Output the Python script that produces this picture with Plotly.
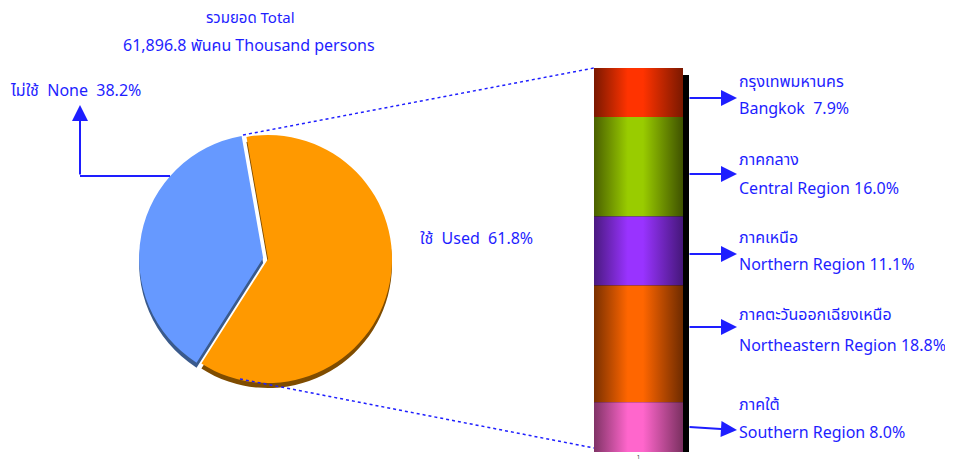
import plotly.graph_objects as go

# data
pie_labels = ["ใช้ Used", "ไม่ใช้ None"]
pie_values = [61.8, 38.2]
region_th = ["กรุงเทพมหานคร", "ภาคกลาง", "ภาคเหนือ", "ภาคตะวันออกเฉียงเหนือ", "ภาคใต้"]
region_en = ["Bangkok", "Central Region", "Northern Region", "Northeastern Region", "Southern Region"]
region_values = [7.9, 16.0, 11.1, 18.8, 8.0]
total_value = "61,896.8"

# page body has an 8px margin, so the figure is sized to the visible area
OFF = 8
W, H = 953 - OFF, 463 - OFF
BLUE = "#1e1eff"
FONT = "Noto Sans Thai, Tahoma, DejaVu Sans, sans-serif"


def px(x):
    return (x - OFF) / W


def py(y):
    return 1 - (y - OFF) / H


# gradient colours for the cylinder-like bar (dark, bright, dark)
bar_colors = [
    ("#7a1800", "#ff3300", "#7a1800"),
    ("#4a6000", "#99cc00", "#3f5200"),
    ("#4a1a80", "#9933ff", "#45177a"),
    ("#7a3000", "#ff6600", "#6e2b00"),
    ("#803366", "#ff66cc", "#7a3060"),
]

fig = go.Figure()

# pie shadow then pie
pie_cx, pie_cy, pie_r, pull = 268, 259, 124, 0.04
half = pie_r * (1 + pull)
for dy, colors in [(5, ["#7f4c00", "#3a5a8c"]), (0, ["#ff9900", "#6699ff"])]:
    cy = pie_cy + dy
    fig.add_trace(go.Pie(
        labels=pie_labels,
        values=pie_values,
        sort=False,
        direction="clockwise",
        rotation=-10,
        pull=[0, pull],
        marker=dict(colors=colors, line=dict(width=0)),
        textinfo="none",
        hoverinfo="label+percent",
        showlegend=False,
        domain=dict(x=[px(pie_cx - half), px(pie_cx + half)],
                    y=[py(cy + half), py(cy - half)]),
    ))

# stacked bar, top to bottom
total = sum(region_values)
top = total
for i, v in enumerate(region_values):
    lo, hi = top - v, top
    dark, bright, dark2 = bar_colors[i]
    fig.add_trace(go.Scatter(
        x=[0, 1, 1, 0, 0],
        y=[lo, lo, hi, hi, lo],
        mode="lines",
        fill="toself",
        line=dict(width=0),
        fillgradient=dict(type="horizontal",
                          colorscale=[[0, dark], [0.38, bright], [0.55, bright], [1, dark2]],
                          start=0, stop=1),
        name=region_en[i],
        hoverinfo="name",
        showlegend=False,
    ))
    top = lo

bar_top, bar_bot = 68, 452
unit_px = (bar_bot - bar_top) / total

fig.add_shape(type="rect", xref="x", yref="y", layer="below",
              x0=0, x1=1 + 6 / 89, y0=0, y1=total - 7 / unit_px,
              fillcolor="black", line=dict(width=0))

# dotted connector lines
for (x0, y0, x1, y1) in [(243, 135, 594, 68), (240, 379, 594, 448)]:
    fig.add_shape(type="line", xref="paper", yref="paper",
                  x0=px(x0), y0=py(y0), x1=px(x1), y1=py(y1),
                  line=dict(color=BLUE, width=1.5, dash="dot"))

# None elbow arrow
fig.add_shape(type="line", xref="paper", yref="paper",
              x0=px(170), y0=py(176), x1=px(80), y1=py(176),
              line=dict(color=BLUE, width=2))

annotations = []


def arrow(x_tip, y_tip, x_tail, y_tail):
    annotations.append(dict(
        x=px(x_tip), y=py(y_tip), xref="paper", yref="paper",
        ax=x_tail - x_tip, ay=y_tail - y_tip, text="",
        showarrow=True, arrowhead=2, arrowsize=1.6, arrowwidth=2,
        arrowcolor=BLUE, standoff=0,
    ))


def label(x, y, text, size=16, anchor="left"):
    annotations.append(dict(
        x=px(x), y=py(y), xref="paper", yref="paper", text=text,
        showarrow=False, xanchor=anchor, yanchor="middle",
        font=dict(family=FONT, size=size, color=BLUE),
    ))


arrow(80, 105, 80, 176)

label(250, 18, "รวมยอด Total", size=15, anchor="center")
label(249, 46, total_value + " พันคน Thousand persons", anchor="center")
label(8, 91, "ไม่ใช้  None  " + f"{pie_values[1]:.1f}%")
label(418, 239, "ใช้  Used  " + f"{pie_values[0]:.1f}%")

arrow_y = [98, 174, 254, 327, 430]
tail_y = [98, 174, 254, 327, 427]
th_y = [82, 160, 238, 315, 405]
en_y = [109, 189, 265, 346, 433]
for i in range(len(region_values)):
    arrow(737, arrow_y[i], 688, tail_y[i])
    label(737, th_y[i], region_th[i])
    sep = "  " if i == 0 else " "
    label(737, en_y[i], region_en[i] + sep + f"{region_values[i]:.1f}%")

fig.update_layout(
    width=W, height=H,
    margin=dict(l=0, r=0, t=0, b=0),
    paper_bgcolor="white", plot_bgcolor="white",
    annotations=annotations,
    xaxis=dict(domain=[px(594), px(689)], range=[0, 1 + 6 / 89],
               showgrid=False, zeroline=False, showline=False,
               tickvals=[0.5], ticktext=["1"], ticks="",
               tickfont=dict(size=6, color="#333333"), fixedrange=True),
    yaxis=dict(domain=[py(bar_bot), py(bar_top)], range=[0, total],
               showgrid=False, zeroline=False, showline=False,
               showticklabels=False, fixedrange=True),
)

fig.write_html("out.html")
